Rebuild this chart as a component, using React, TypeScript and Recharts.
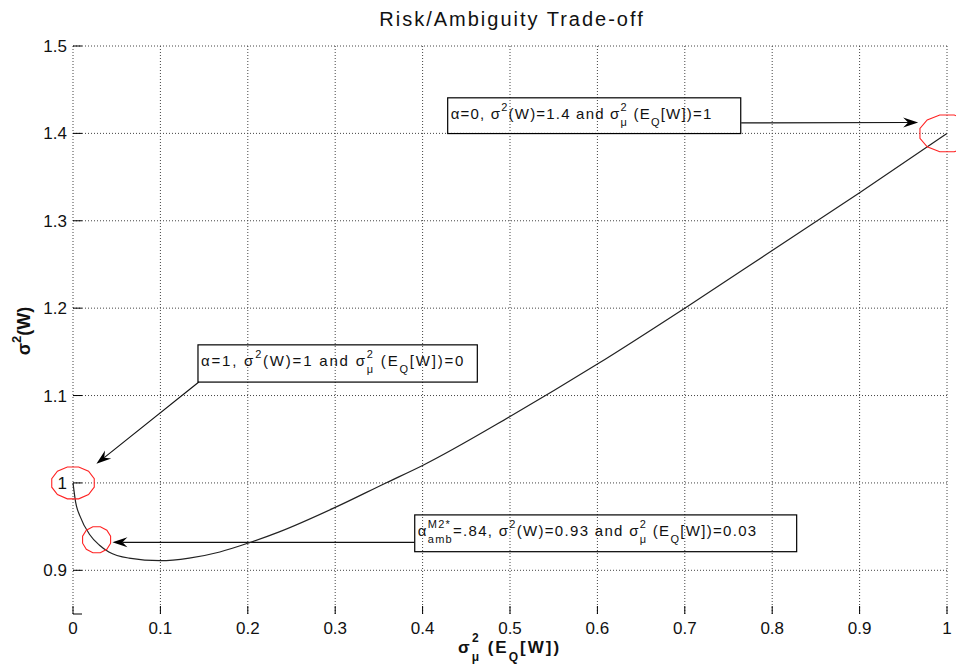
import React from 'react';
import {
  ComposedChart,
  Line,
  Scatter,
  XAxis,
  YAxis,
  CartesianGrid,
  ReferenceArea,
  ReferenceLine,
} from 'recharts';

// frontier: variance of E_Q[W] (x) against variance of W (y)
const ambiguityVar = [0, 0.003, 0.008, 0.019, 0.03, 0.041, 0.064, 0.1, 0.133, 0.168, 0.2, 0.236, 0.3, 0.358, 0.4, 0.5, 0.6, 0.7, 0.8, 0.9, 1.0];
const riskVar = [1.0, 0.978, 0.962, 0.941, 0.929, 0.921, 0.914, 0.911, 0.914, 0.921, 0.931, 0.944, 0.972, 1.0, 1.02, 1.076, 1.136, 1.2, 1.266, 1.332, 1.4];

// highlighted points
const markerX = [0, 0.027, 1.0];
const markerY = [1.0, 0.935, 1.4];

const xTicks = [0, 0.1, 0.2, 0.3, 0.4, 0.5, 0.6, 0.7, 0.8, 0.9, 1];
const xTickLabels = ['0', '0.1', '0.2', '0.3', '0.4', '0.5', '0.6', '0.7', '0.8', '0.9', '1'];
const yTicks = [0.85, 0.9, 1, 1.1, 1.2, 1.3, 1.4, 1.5];
const yTickLabels = ['', '0.9', '1', '1.1', '1.2', '1.3', '1.4', '1.5'];
const yGrid = [0.9, 1, 1.1, 1.2, 1.3, 1.4, 1.5];

const curve = ambiguityVar.map((x, i) => ({ x, y: riskVar[i] }));
const markers = markerX.map((x, i) => ({ x, y: markerY[i] }));

// marker ellipse radii (style only)
const markerRadii = [
  [22, 16.5],
  [14.5, 13.5],
  [28, 19],
];

type Part = { t?: string; sup?: string; sub?: string };

// annotation boxes and arrows, in data units
const notes: { box: [number, number, number, number]; from: [number, number]; to: [number, number]; spacing: number; parts: Part[] }[] = [
  {
    box: [0.4287, 0.764, 1.3998, 1.4407],
    from: [0.7645, 1.412],
    to: [0.967, 1.4125],
    spacing: 1.2,
    parts: [{ t: 'α=0, σ', sup: '2' }, { t: '(W)=1.4 and σ', sup: '2', sub: 'μ' }, { t: ' (E', sub: 'Q' }, { t: '[W])=1' }],
  },
  {
    box: [0.143, 0.4626, 1.1154, 1.158],
    from: [0.144, 1.1155],
    to: [0.0268, 1.0218],
    spacing: 1.8,
    parts: [{ t: 'α=1, σ', sup: '2' }, { t: '(W)=1 and σ', sup: '2', sub: 'μ' }, { t: ' (E', sub: 'Q' }, { t: '[W])=0' }],
  },
  {
    box: [0.391, 0.828, 0.9213, 0.9634],
    from: [0.391, 0.932],
    to: [0.0451, 0.932],
    spacing: 1.3,
    parts: [
      { t: 'α', sup: 'M2*', sub: 'amb' },
      { t: '=.84, σ', sup: '2' },
      { t: '(W)=0.93 and σ', sup: '2', sub: 'μ' },
      { t: ' (E', sub: 'Q' },
      { t: '[W])=0.03' },
    ],
  },
];

const FONT = '"Liberation Sans", Arial, Helvetica, sans-serif';

const charW = (s: string, size: number, spacing: number) => {
  let w = 0;
  for (const c of s) {
    if (c === 'M') w += 0.833;
    else if (c === '*') w += 0.389;
    else if (c === 'm') w += 0.833;
    else w += 0.556;
  }
  return w * size + spacing * s.length;
};

const RichText = ({ x, y, parts, size, small, spacing = 0, anchor = 'start', weight = 'normal', transform }: any) => {
  const up = Math.round(size * 0.5);
  const down = Math.round(size * 0.45);
  let level = 0;
  const go = (target: number) => {
    const d = target - level;
    level = target;
    return d;
  };
  const nodes: React.ReactNode[] = [];
  (parts as Part[]).forEach((p, i) => {
    if (p.t) nodes.push(<tspan key={i + 't'} dy={go(0)} fontSize={size}>{p.t}</tspan>);
    if (p.sup) nodes.push(<tspan key={i + 'a'} dy={go(-up)} fontSize={small}>{p.sup}</tspan>);
    if (p.sub)
      nodes.push(
        <tspan key={i + 'b'} dx={p.sup ? -charW(p.sup, small, spacing) : 0} dy={go(down)} fontSize={small}>
          {p.sub}
        </tspan>
      );
  });
  return (
    <text
      x={x}
      y={y}
      textAnchor={anchor}
      fontFamily={FONT}
      fontWeight={weight}
      letterSpacing={spacing}
      fill="#111"
      transform={transform}
      style={{ whiteSpace: 'pre' }}
    >
      {nodes}
    </text>
  );
};

const XTick = (props: any) => {
  const { x, y, payload, index } = props;
  return (
    <g>
      <line x1={x} y1={y - 8} x2={x} y2={y} stroke="#000" />
      <text x={x} y={y + 20} textAnchor="middle" fontFamily={FONT} fontSize={17} fill="#111">
        {xTickLabels[index] ?? payload.value}
      </text>
    </g>
  );
};

const YTick = (props: any) => {
  const { x, y, index } = props;
  const label = yTickLabels[index];
  return (
    <g>
      <line x1={x} y1={y} x2={x + 9} y2={y} stroke="#000" />
      {label ? (
        <text x={x - 6} y={y + 6} textAnchor="end" fontFamily={FONT} fontSize={17} fill="#111">
          {label}
        </text>
      ) : null}
    </g>
  );
};

const MarkerShape = (props: any) => {
  const { cx, cy, index } = props;
  const [rx, ry] = markerRadii[index] || [20, 18];
  const pts: string[] = [];
  const n = 12;
  for (let k = 0; k < n; k++) {
    const a = (k / n) * Math.PI * 2 + Math.PI / n;
    pts.push(`${cx + rx * Math.cos(a)},${cy + ry * Math.sin(a)}`);
  }
  return <polygon points={pts.join(' ')} fill="none" stroke="#ff2222" strokeWidth={1.1} />;
};

const ArrowShape = (props: any) => {
  const { x1, y1, x2, y2 } = props;
  const ang = Math.atan2(y2 - y1, x2 - x1);
  const c = Math.cos(ang);
  const s = Math.sin(ang);
  const L = 15;
  const W = 5;
  const notch = 10;
  const at = (d: number, o: number) => `${x2 - d * c - o * s},${y2 - d * s + o * c}`;
  return (
    <g>
      <line x1={x1} y1={y1} x2={x2 - notch * c} y2={y2 - notch * s} stroke="#111" strokeWidth={1.1} />
      <polygon points={`${x2},${y2} ${at(L, W)} ${at(notch, 0)} ${at(L, -W)}`} fill="#000" />
    </g>
  );
};

const NoteBox = (parts: Part[], spacing: number) => (props: any) => {
  const { x, y, width, height } = props;
  return (
    <g>
      <rect x={x} y={y} width={width} height={height} fill="none" stroke="#000" strokeWidth={1.2} />
      <RichText x={x + 3} y={y + 21} parts={parts} size={15} small={11} spacing={spacing} />
    </g>
  );
};

export default function App() {
  return (
    <div style={{ position: 'absolute', left: 0, top: 0, background: '#fff' }}>
      <ComposedChart width={956} height={666} margin={{ top: 46, right: 9, bottom: 0, left: 0 }}>
        <CartesianGrid
          stroke="#444"
          strokeDasharray="1 2"
          horizontalValues={yGrid}
          verticalValues={xTicks}
        />
        <XAxis
          type="number"
          dataKey="x"
          domain={[0, 1]}
          ticks={xTicks}
          interval={0}
          axisLine={false}
          tickLine={false}
          tickSize={0}
          tickMargin={0}
          height={52}
          tick={<XTick />}
        />
        <YAxis
          type="number"
          domain={[0.85, 1.5]}
          ticks={yTicks}
          interval={0}
          axisLine={false}
          tickLine={false}
          tickSize={0}
          tickMargin={0}
          width={73}
          tick={<YTick />}
        />
        {notes.map((n, i) => (
          <ReferenceArea
            key={'box' + i}
            x1={n.box[0]}
            x2={n.box[1]}
            y1={n.box[2]}
            y2={n.box[3]}
            shape={NoteBox(n.parts, n.spacing)}
            ifOverflow="visible"
          />
        ))}
        {notes.map((n, i) => (
          <ReferenceLine
            key={'arrow' + i}
            segment={[
              { x: n.from[0], y: n.from[1] },
              { x: n.to[0], y: n.to[1] },
            ]}
            shape={ArrowShape}
            ifOverflow="visible"
          />
        ))}
        <Line
          data={curve}
          dataKey="y"
          type="monotone"
          stroke="#222"
          strokeWidth={1.2}
          dot={false}
          activeDot={false}
          isAnimationActive={false}
        />
        <Scatter data={markers} dataKey="y" shape={<MarkerShape />} isAnimationActive={false} />
        <text
          x={512}
          y={26}
          textAnchor="middle"
          fontFamily={FONT}
          fontSize={20}
          letterSpacing={2}
          fill="#111"
        >
          Risk/Ambiguity Trade-off
        </text>
        {/* x label: superscript drawn on its own so it stays clear of the tick labels */}
        <text x={472} y={642} fontFamily={FONT} fontWeight="bold" fontSize={12} fill="#111">
          2
        </text>
        <RichText
          x={458}
          y={653}
          parts={[{ t: 'σ', sub: 'μ' }, { t: ' (E', sub: 'Q' }, { t: '[W])' }]}
          size={17}
          small={12}
          spacing={2}
          weight="bold"
        />
        <RichText
          x={30}
          y={331}
          parts={[{ t: 'σ', sup: '2' }, { t: '(W)' }]}
          size={18}
          small={13}
          anchor="middle"
          weight="bold"
          transform="rotate(-90 30 331)"
        />
      </ComposedChart>
    </div>
  );
}
